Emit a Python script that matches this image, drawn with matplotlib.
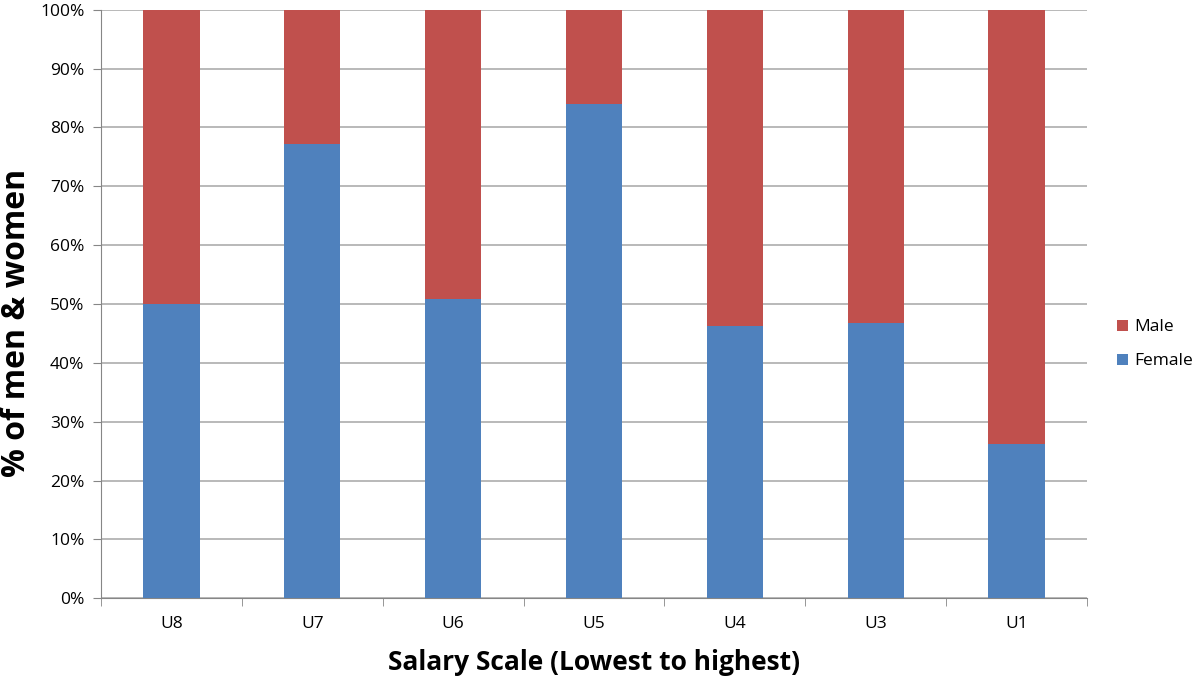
import numpy as np
import matplotlib
matplotlib.use('Agg')
from matplotlib import pyplot as plt

# Data
categories = ['U8', 'U7', 'U6', 'U5', 'U4', 'U3', 'U1']
female = [50.0, 77.2, 50.9, 83.9, 46.2, 46.8, 26.2]
male = [100 - f for f in female]
y_ticks = list(range(0, 101, 10))

plt.rcParams['font.family'] = ['Open Sans', 'DejaVu Sans']

fig = plt.figure(figsize=(12, 6.79), dpi=100)
ax = fig.add_axes([0.0842, 0.1188, 0.8216, 0.8669])

x = np.arange(len(categories))
ax.bar(x, female, width=0.4, color='#4F81BD', label='Female', zorder=3)
ax.bar(x, male, width=0.4, bottom=female, color='#C0504D', label='Male', zorder=3)

ax.set_xlim(-0.5, len(categories) - 0.5)
ax.set_ylim(0, 100)
ax.set_yticks(y_ticks)
ax.set_yticklabels(['%d%%' % v for v in y_ticks], fontsize=12.5)
ax.set_xticks(x)
ax.set_xticklabels(categories, fontsize=12.5)
ax.tick_params(axis='x', length=0, pad=13)
ax.set_xticks(np.arange(-0.5, len(categories)), minor=True)
ax.tick_params(axis='x', which='minor', length=6, color='#868686')
ax.tick_params(axis='y', length=6, color='#868686', pad=6)

ax.yaxis.grid(True, color='#A6A6A6', linewidth=1.1, zorder=0)
for s in ['top', 'right']:
    ax.spines[s].set_visible(False)
for s in ['left', 'bottom']:
    ax.spines[s].set_color('#868686')

# y label placed by hand so it sits like the original
fig.text(17 / 1200, 1 - 323 / 679, '% of men & women', rotation=90, fontsize=23,
         fontweight='bold', ha='center', va='center')
ax.set_xlabel('Salary Scale (Lowest to highest)', fontsize=19, fontweight='bold', labelpad=12)

handles, labels = ax.get_legend_handles_labels()
fig.legend(handles[::-1], labels[::-1], loc='center left', bbox_to_anchor=(0.918, 0.493),
           frameon=False, fontsize=12.5, handlelength=0.6, handleheight=0.6,
           handletextpad=0.4, labelspacing=1.05)

fig.savefig('out.png', dpi=100)
